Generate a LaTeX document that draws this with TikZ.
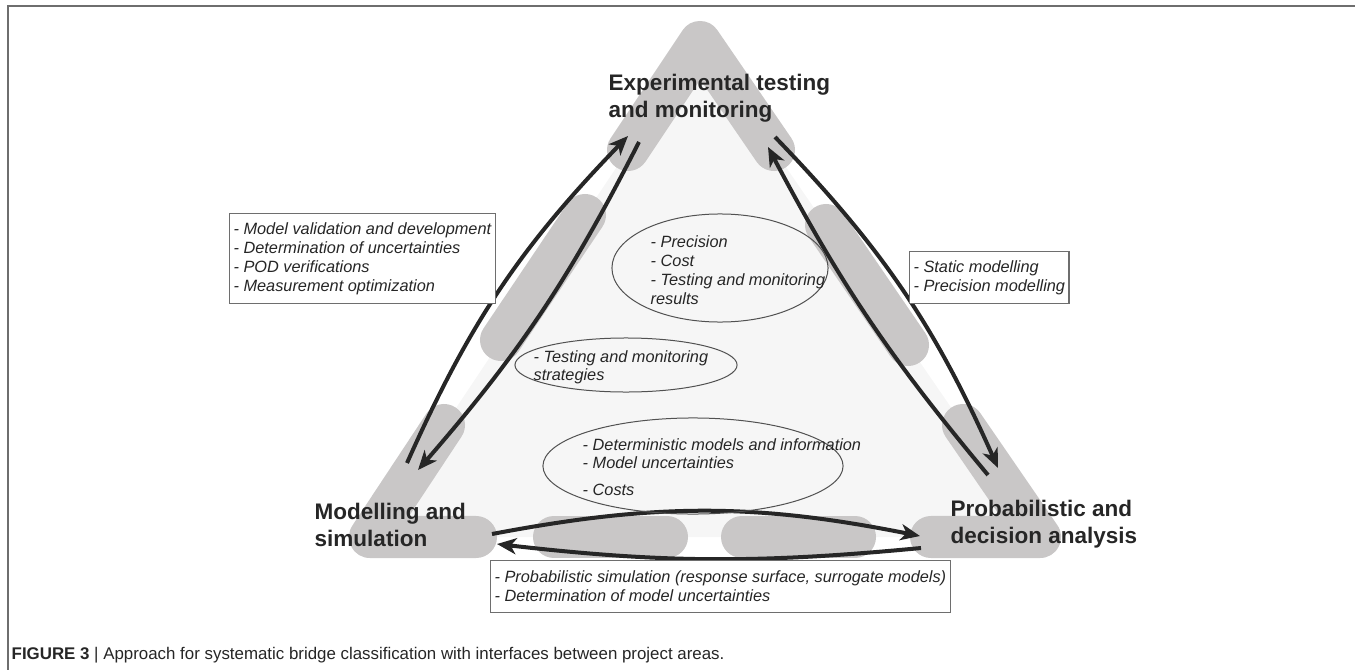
\documentclass[tikz,border=0pt]{standalone}
\usepackage{fontspec}
\setmainfont{Liberation Sans}
\usetikzlibrary{shapes.geometric,arrows.meta}
\definecolor{bandgray}{HTML}{C9C7C7}
\definecolor{inside}{HTML}{F6F6F6}
\definecolor{ink}{HTML}{262626}
\definecolor{rulegray}{HTML}{6E6E6E}
\tikzset{
  band/.style={line width=0.42cm, bandgray, line cap=round, line join=round},
  flow/.style={line width=0.04cm, ink, -{Stealth[length=5.5pt,width=4.6pt,inset=1.6pt]}},
  areatitle/.style={anchor=north west, align=left, text=ink, inner sep=0pt,
    font=\bfseries\fontsize{6.4}{7.7}\selectfont},
  note/.style={anchor=north west, align=left, text=ink, inner sep=0pt,
    font=\itshape\fontsize{4.64}{5.4}\selectfont},
  notebox/.style={note, draw=rulegray, fill=white, line width=0.012cm,
    inner xsep=0.04cm, inner ysep=0pt},
  bubble/.style={ellipse, draw=ink!80, line width=0.01cm, inner sep=0pt},
}
\begin{document}
\begin{tikzpicture}[x=0.01cm, y=-0.01cm]
  \useasboundingbox (0,0) rectangle (1355,670);

  \draw[rulegray, line width=0.022cm] (8,670) -- (8,6) -- (1355,6); %FRAME
  \fill[inside] (700,42) -- (370,537) -- (1040,537) -- cycle; %INSIDE

  \draw[band] (628,150) -- (700,42) -- (774,150); %TOP
  \draw[band] (585,215) -- (501,340); %LEFT
  \draw[band] (826,225) -- (908,345); %RIGHT
  \draw[band] (444,425) -- (370,537) -- (476,537); %BOTTOM-LEFT
  \draw[band] (554,537) -- (667,537); %BOTTOM
  \draw[band] (742,537) -- (855,537); %BOTTOM
  \draw[band] (931,537) -- (1040,537) -- (963,425); %BOTTOM-RIGHT

  \coordinate (lu1) at (407,463); \coordinate (lu2) at (628,136);
  \coordinate (ld1) at (639,142); \coordinate (ld2) at (418,470);
  \coordinate (ru1) at (988,475); \coordinate (ru2) at (768,147);
  \coordinate (rd1) at (775,137); \coordinate (rd2) at (998,468);
  \coordinate (bu1) at (492,534); \coordinate (bu2) at (920,536);
  \coordinate (bl1) at (921,548); \coordinate (bl2) at (497,544);

  \draw[flow] (lu1) to[bend left=10] (lu2); %LEFT-UP
  \draw[flow] (ld1) to[bend left=7] (ld2); %LEFT-DOWN
  \draw[flow] (ru1) to[bend left=6] (ru2); %RIGHT-UP
  \draw[flow] (rd1) to[bend left=10] (rd2); %RIGHT-DOWN
  \draw[flow] (bu1) to[bend left=11] (bu2); %BOTTOM-RIGHT
  \draw[flow] (bl1) to[bend left=6] (bl2); %BOTTOM-LEFT

  \node[bubble, minimum width=2.16cm, minimum height=1.08cm] (bubA) at (720,268) {};
  \node[bubble, minimum width=2.22cm, minimum height=0.54cm] (bubB) at (626,365) {};
  \node[bubble, minimum width=3.00cm, minimum height=0.96cm] (bubC) at (693,466) {};

  \node[note] (precision) at (650,235) {- Precision\\- Cost\\- Testing and monitoring\\results};
  \node[note, font=\itshape\fontsize{4.64}{5.12}\selectfont] (strategies) at (533,350)
    {- Testing and monitoring\\strategies};
  \node[note, font=\itshape\fontsize{4.64}{5.12}\selectfont] (models) at (582,438)
    {- Deterministic models and information\\- Model uncertainties\\[2.5pt]- Costs};

  \node[notebox, minimum height=0.9cm] (boxL) at (229,213)
    {- Model validation and development\\- Determination of uncertainties\\- POD verifications\\- Measurement optimization};
  \node[notebox, minimum height=0.52cm] (boxR) at (909,251)
    {- Static modelling\\- Precision modelling};
  \node[notebox, minimum height=0.52cm] (boxB) at (490,560)
    {- Probabilistic simulation (response surface, surrogate models)\\- Determination of model uncertainties};

  \node[areatitle] (exp) at (608,73) {Experimental testing\\and monitoring};
  \node[areatitle] (mod) at (314,502) {Modelling and\\simulation};
  \node[areatitle] (prob) at (950,499) {Probabilistic and\\decision analysis};

  \node[anchor=base west, inner sep=0pt, text=ink, font=\fontsize{4.8}{6}\selectfont] (cap) at (11,659)
    {\textbf{FIGURE 3} | Approach for systematic bridge classification with interfaces between project areas.};
\end{tikzpicture}
\end{document}
